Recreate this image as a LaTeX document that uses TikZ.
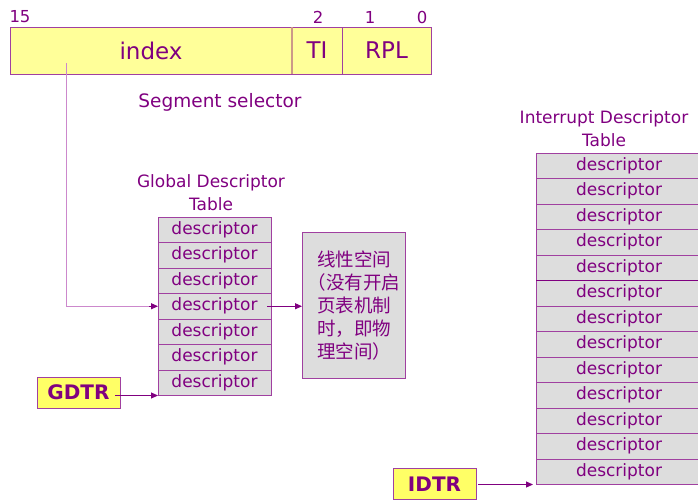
\documentclass[tikz,border=0pt]{standalone}
\usepackage{fontspec}
\setmainfont{DejaVu Sans}
\newfontfamily\cjk{Noto Sans CJK SC}
\usetikzlibrary{arrows.meta}

\definecolor{txt}{HTML}{800080}
\definecolor{edge}{HTML}{A040A0}
\definecolor{lead}{HTML}{CC88CC}
\definecolor{cellgray}{HTML}{DDDDDD}
\definecolor{selfill}{HTML}{FFFF99}
\definecolor{regfill}{HTML}{FFFF66}
\definecolor{tanline}{HTML}{CC9988}

\tikzset{
  fld/.style={draw=edge, line width=1pt, fill=selfill, text=txt, inner sep=0pt,
    outer sep=0pt, minimum height=47pt, font=\fontsize{23}{26}\selectfont},
  cell/.style={draw=edge, line width=0.9pt, fill=cellgray, text=txt, inner sep=0pt,
    outer sep=0pt, minimum height=25.5pt, font=\fontsize{17}{19}\selectfont},
  gcell/.style={cell, minimum width=113pt},
  icell/.style={cell, minimum width=166pt},
  reg/.style={draw=edge, line width=1pt, fill=regfill, text=txt, inner sep=0pt,
    outer sep=0pt, minimum width=83pt, minimum height=31pt,
    font=\bfseries\fontsize{20}{22}\selectfont},
  lbl/.style={text=txt, inner sep=0pt},
  title/.style={lbl, align=center, font=\fontsize{17}{23}\selectfont},
  bitno/.style={lbl, font=\fontsize{16.5}{19}\selectfont},
  arr/.style={draw=txt, line width=1pt, -{Triangle[length=7pt,width=6pt]}},
}

\begin{document}
\begin{tikzpicture}[x=1pt,y=-1pt]
\useasboundingbox (0,0) rectangle (698,499);

% segment selector
\node[fld, minimum width=282pt] (index) at (151,50.5) {index};
\node[fld, minimum width=50pt]  (ti)    at (317,50.5) {TI};
\node[fld, minimum width=89pt]  (rpl)   at (386.5,50.5) {RPL};
\draw[tanline, line width=1.2pt] (index.north east) -- (index.south east);

\node[bitno] (b15) at (20,17)  {15};
\node[bitno] (b2)  at (318,17) {2};
\node[bitno] (b1)  at (370,17) {1};
\node[bitno] (b0)  at (422,17) {0};

\node[lbl, anchor=base, font=\fontsize{18.5}{22}\selectfont] (selname) at (220,107) {Segment selector};

% global descriptor table (anchor=base sits on the last line)
\node[title, anchor=base] (gdttitle) at (211,210) {Global Descriptor\\Table};
\foreach \i in {1,...,7}
  \node[gcell] (g\i) at (214.5,{217+12.75+25.5*(\i-1)}) {descriptor};

% linear address space
\node[draw=edge, line width=1pt, fill=cellgray, minimum width=103.5pt,
      minimum height=146pt, inner sep=0pt, outer sep=0pt] (lin) at (353.75,305) {};
\node[lbl, anchor=west, align=left, font=\cjk\fontsize{18.5}{23}\selectfont] (lintext)
  at (317,306) {线性空间\\{\addfontfeature{RawFeature=+halt}（}没有开启\\页表机制\\时，即物\\理空间{\addfontfeature{RawFeature=+halt}）}};

% interrupt descriptor table
\node[title, anchor=base] (idttitle) at (604,146.5) {Interrupt Descriptor\\Table};
\foreach \i in {1,...,13}
  \node[icell] (i\i) at (619,{153+12.75+25.5*(\i-1)}) {descriptor};
\draw[txt, line width=1.3pt] (i5.south west) -- (i5.south east);

% registers
\node[reg] (gdtr) at (78.5,392.5) {GDTR};
\node[reg] (idtr) at (434.5,484)  {IDTR};

% connectors
\coordinate (ixtap) at (66.5,63);
\draw[lead, line width=1.4pt] (ixtap) |- ([xshift=-8pt]g4.west);
\draw[arr] ([xshift=-9pt]g4.west) -- (g4.west);
\draw[arr] ([xshift=-4pt]g4.east) -- (lin.west |- g4.east);
\draw[arr] ([xshift=-5pt]gdtr.east |- g7.south west) -- (g7.south west);
\draw[arr] ([xshift=2pt]idtr.east |- i13.south west) -- ([xshift=-3pt]i13.south west);
\end{tikzpicture}
\end{document}
